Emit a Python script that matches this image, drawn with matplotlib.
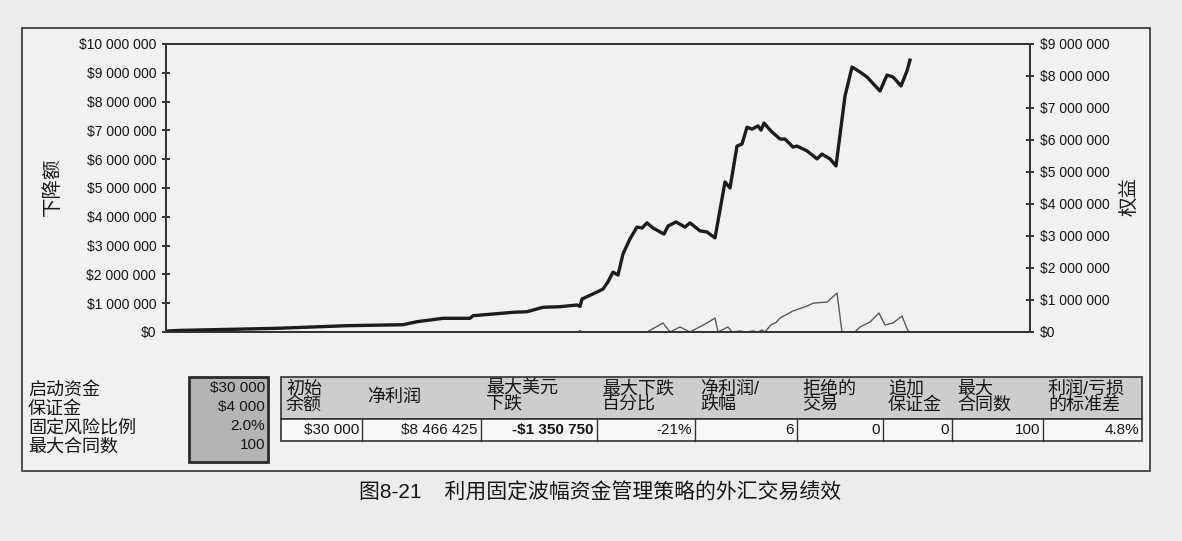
import matplotlib
matplotlib.use("Agg")
import matplotlib.pyplot as plt
import matplotlib.ticker as mticker
from matplotlib.patches import Rectangle

plt.rcParams['font.family'] = ['Liberation Sans', 'Noto Sans CJK SC']

W, H = 1182, 541

# ---------------- data ----------------
# equity curve, right axis (x = trade index)
eq_x = [0, 14, 111, 181, 237, 251, 277, 304, 307, 327, 347, 361, 377, 394, 411, 414,
        416, 427, 437, 442, 447, 452, 457, 464, 471, 476, 481, 487, 498, 502, 510, 519,
        524, 534, 541, 549, 559, 564, 571, 576, 581, 586, 592, 595, 598, 605, 614, 619,
        627, 631, 641, 651, 656, 664, 670, 679, 686, 694, 701, 714, 721, 727, 735, 741, 744]
eq_val = [30000, 50000, 115000, 197000, 228000, 322000, 428000, 428000, 509000, 562000,
          616000, 634000, 772000, 791000, 844000, 800000, 1030000, 1190000, 1340000,
          1570000, 1870000, 1780000, 2440000, 2910000, 3280000, 3250000, 3410000, 3250000,
          3060000, 3310000, 3440000, 3280000, 3410000, 3160000, 3125000, 2940000, 4690000,
          4500000, 5810000, 5875000, 6400000, 6340000, 6440000, 6310000, 6530000, 6280000,
          6030000, 6030000, 5780000, 5810000, 5660000, 5410000, 5560000, 5410000, 5190000,
          7375000, 8280000, 8125000, 7970000, 7530000, 8030000, 7970000, 7690000, 8160000,
          8496425]

# drawdown, left axis
dd_x = [0, 411, 414, 416, 481, 497, 504, 514, 524, 541, 549, 552, 562, 566, 574, 580,
        587, 592, 596, 599, 605, 610, 614, 627, 641, 647, 661, 671, 676, 689, 694, 704,
        713, 719, 727, 736, 742, 746]
dd_val = [0, 0, 45000, 0, 0, 312000, 0, 174000, 0, 312000, 486000, 0, 174000, 0, 35000,
          0, 35000, 0, 70000, 0, 250000, 330000, 486000, 730000, 900000, 1000000, 1040000,
          1350750, 0, 0, 174000, 347000, 660000, 243000, 312000, 555000, 35000, 0]

input_labels = ["启动资金", "保证金", "固定风险比例", "最大合同数"]
input_values = ["$30 000", "$4 000", "2.0%", "100"]

result_headers = ["初始\n余额", "净利润", "最大美元\n下跌", "最大下跌\n百分比", "净利润/\n跌幅",
                  "拒绝的\n交易", "追加\n保证金", "最大\n合同数", "利润/亏损\n的标准差"]
result_values = ["$30 000", "$8 466 425", "-$1 350 750", "-21%", "6", "0", "0", "100", "4.8%"]

caption = "图8-21    利用固定波幅资金管理策略的外汇交易绩效"


def px(x, y):
    """pixel position -> figure fraction"""
    return x / W, 1 - y / H


def money(v, pos=None):
    return "$" + f"{int(round(v)):,}".replace(",", " ")


# ---------------- figure ----------------
fig = plt.figure(figsize=(W / 100, H / 100), dpi=100, facecolor="#ececec")

# outer frame (behind the axes)
x0, y0 = px(22, 471)
x1, y1 = px(1150, 28)
fig.patches.append(Rectangle((x0, y0), x1 - x0, y1 - y0, transform=fig.transFigure,
                             fc="#f1f1f1", ec="#333333", lw=1.2, zorder=-1))

ax = fig.add_axes([166 / W, 1 - 332 / H, 864 / W, 288 / H])
ax.set_facecolor("none")
ax2 = ax.twinx()

ax.plot(dd_x, dd_val, color="#5a5a5a", lw=1.0)
ax2.plot(eq_x, eq_val, color="#1c1c1c", lw=2.4)

ax.set_xlim(0, 864)
ax.set_ylim(0, 10_000_000)
ax2.set_ylim(0, 9_000_000)
ax.set_yticks(range(0, 10_000_001, 1_000_000))
ax2.set_yticks(range(0, 9_000_001, 1_000_000))
ax.yaxis.set_major_formatter(mticker.FuncFormatter(money))
ax2.yaxis.set_major_formatter(mticker.FuncFormatter(money))
ax.set_xticks([])

for a in (ax, ax2):
    a.tick_params(axis="y", direction="inout", length=6, width=1.2, labelsize=10,
                  colors="#151515", pad=4)
    for s in a.spines.values():
        s.set_color("#333333")
        s.set_linewidth(1.3)

fig.text(*px(53, 187), "下降额", rotation=90, ha="center", va="center",
         fontsize=14, color="#1a1a1a")
fig.text(*px(1130, 197), "权益", rotation=90, ha="center", va="center",
         fontsize=14, color="#1a1a1a")

# ---------------- input block ----------------
bx0, by0 = px(189, 462)
bx1, by1 = px(268, 377)
fig.patches.append(Rectangle((bx0, by0), bx1 - bx0, by1 - by0, transform=fig.transFigure,
                             fc="#b4b4b4", ec="#2a2a2a", lw=2.0, zorder=1))

for i, (lab, val) in enumerate(zip(input_labels, input_values)):
    y = 390 + 19 * i
    fig.text(*px(28, y), lab, ha="left", va="center", fontsize=13, color="#151515")
    fig.text(*px(265, y - 2), val, ha="right", va="center", fontsize=11, color="#151515")

# ---------------- result table ----------------
edges = [281, 362, 481, 597, 695, 797, 883, 952, 1043, 1142]
hx0, hy0 = px(edges[0], 419)
hx1, hy1 = px(edges[-1], 377)
fig.patches.append(Rectangle((hx0, hy0), hx1 - hx0, hy1 - hy0, transform=fig.transFigure,
                             fc="#cdcdcd", ec="#333333", lw=1.2, zorder=1))
vx0, vy0 = px(edges[0], 441)
vx1, vy1 = px(edges[-1], 419)
fig.patches.append(Rectangle((vx0, vy0), vx1 - vx0, vy1 - vy0, transform=fig.transFigure,
                             fc="#f8f8f8", ec="#333333", lw=1.2, zorder=1))
for e in edges[1:-1]:
    fig.lines.append(plt.Line2D([e / W, e / W], [vy0, vy1], transform=fig.transFigure,
                                color="#333333", lw=1.0))

for i, (hd, val) in enumerate(zip(result_headers, result_values)):
    fig.text(*px(edges[i] + 5, 397), hd, ha="left", va="center", fontsize=13,
             linespacing=0.9, color="#151515")
    fig.text(*px(edges[i + 1] - 3, 430), val, ha="right", va="center", fontsize=11,
             color="#151515", fontweight="bold" if val.startswith("-$") else "normal")

fig.text(*px(600, 492), caption, ha="center", va="center", fontsize=15, color="#151515")

fig.savefig("out.png", dpi=100, facecolor=fig.get_facecolor())
